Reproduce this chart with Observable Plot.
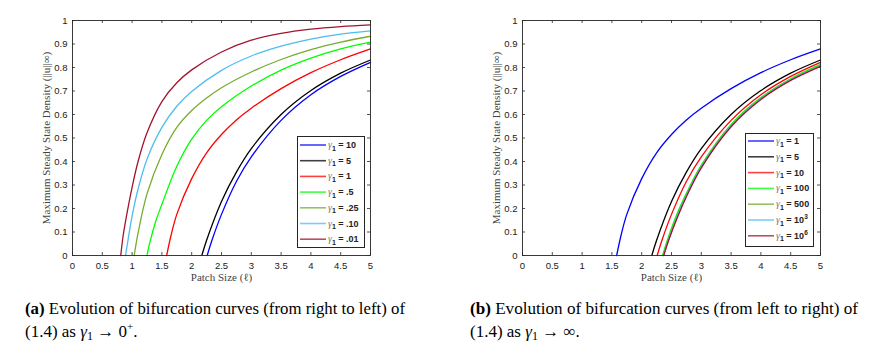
<!DOCTYPE html>
<html>
<head>
<meta charset="utf-8">
<script src="https://cdn.jsdelivr.net/npm/d3@7"></script>
<script src="https://cdn.jsdelivr.net/npm/@observablehq/plot@0.6"></script>
<style>
  html, body { margin: 0; padding: 0; background: #fff; }
  #page { position: relative; width: 882px; height: 361px; overflow: hidden; }
  .panel { position: absolute; top: 0; }
  .legend { position: absolute; background: #fff; border: 0.8px solid #262626; box-sizing: border-box; }
</style>
</head>
<body>
<div id="page"></div>
<script>
// ---------- data ----------
const xTicks = [0, 0.5, 1, 1.5, 2, 2.5, 3, 3.5, 4, 4.5, 5];
const xTickLabels = ["0", "0.5", "1", "1.5", "2", "2.5", "3", "3.5", "4", "4.5", "5"];
const yTicks = [0, 0.1, 0.2, 0.3, 0.4, 0.5, 0.6, 0.7, 0.8, 0.9, 1];
const yTickLabels = ["0", "0.1", "0.2", "0.3", "0.4", "0.5", "0.6", "0.7", "0.8", "0.9", "1"];

// gamma_1 = 10
const g10_x = [2.26, 2.34, 2.5, 2.75, 3.0, 3.5, 4.0, 4.5, 5.0];
const g10_y = [0, 0.065, 0.175, 0.315, 0.42, 0.575, 0.684, 0.762, 0.822];
// gamma_1 = 5
const g5_x = [2.17, 2.25, 2.5, 2.75, 3.0, 3.5, 4.0, 4.5, 5.0];
const g5_y = [0, 0.065, 0.23, 0.355, 0.455, 0.60, 0.702, 0.776, 0.832];
// gamma_1 = 1
const g1_x = [1.58, 1.65, 1.75, 2.0, 2.25, 2.5, 2.75, 3.0, 3.5, 4.0, 4.5, 5.0];
const g1_y = [0, 0.082, 0.175, 0.327, 0.437, 0.515, 0.577, 0.627, 0.71, 0.778, 0.833, 0.879];
// gamma_1 = .5
const g05_x = [1.25, 1.3, 1.4, 1.5, 1.75, 2.0, 2.25, 2.5, 3.0, 3.5, 4.0, 4.5, 5.0];
const g05_y = [0, 0.058, 0.148, 0.218, 0.38, 0.495, 0.575, 0.633, 0.721, 0.789, 0.84, 0.879, 0.908];
// gamma_1 = .25
const g025_x = [1.035, 1.1, 1.25, 1.5, 1.75, 2.0, 2.25, 2.5, 3.0, 3.5, 4.0, 4.5, 5.0];
const g025_y = [0, 0.095, 0.262, 0.43, 0.545, 0.617, 0.67, 0.714, 0.781, 0.834, 0.876, 0.908, 0.933];
// gamma_1 = .10
const g010_x = [0.89, 0.95, 1.0, 1.1, 1.25, 1.5, 1.75, 2.0, 2.5, 3.0, 3.5, 4.0, 4.5, 5.0];
const g010_y = [0, 0.095, 0.168, 0.283, 0.41, 0.545, 0.635, 0.698, 0.788, 0.849, 0.891, 0.921, 0.942, 0.956];
// gamma_1 = .01
const g001_x = [0.81, 0.85, 0.9, 1.0, 1.1, 1.25, 1.5, 1.75, 2.0, 2.5, 3.0, 3.5, 4.0, 4.5, 5.0];
const g001_y = [0, 0.085, 0.16, 0.29, 0.40, 0.522, 0.655, 0.735, 0.79, 0.866, 0.916, 0.945, 0.963, 0.974, 0.981];
// gamma_1 = 100
const g100_x = [2.35, 2.43, 2.6, 2.75, 3.0, 3.5, 4.0, 4.5, 5.0];
const g100_y = [0, 0.065, 0.182, 0.265, 0.385, 0.558, 0.672, 0.752, 0.813];
// gamma_1 = 500
const g500_x = [2.36, 2.44, 2.6, 2.75, 3.0, 3.5, 4.0, 4.5, 5.0];
const g500_y = [0, 0.065, 0.172, 0.258, 0.379, 0.553, 0.668, 0.749, 0.809];
// gamma_1 = 10^3
const g1e3_x = [2.365, 2.445, 2.6, 2.75, 3.0, 3.5, 4.0, 4.5, 5.0];
const g1e3_y = [0, 0.064, 0.168, 0.255, 0.377, 0.551, 0.667, 0.748, 0.807];
// gamma_1 = 10^6
const g1e6_x = [2.37, 2.45, 2.6, 2.75, 3.0, 3.5, 4.0, 4.5, 5.0];
const g1e6_y = [0, 0.063, 0.163, 0.25, 0.373, 0.548, 0.664, 0.745, 0.805];

const leftLabels = ["10", "5", "1", ".5", ".25", ".10", ".01"];
const rightLabels = ["1", "5", "10", "100", "500", "10^3", "10^6"];

const xLabel = "Patch Size (\u2113)";
const yLabel = "Maximum Steady State Density (||u||\u221E)";

const captionA1 = ["(a)", " Evolution of bifurcation curves (from right to left) of"];
const captionB1 = ["(b)", " Evolution of bifurcation curves (from left to right) of"];

// ---------- styling ----------
const C = {
  blue: "#0000ff", black: "#000000", red: "#ff0000", green: "#00ff00",
  olive: "#77ac30", lightblue: "#4dbeee", darkred: "#a2142f"
};
const leftSeries = [
  {label: leftLabels[0], xs: g10_x, ys: g10_y, color: C.blue},
  {label: leftLabels[1], xs: g5_x, ys: g5_y, color: C.black},
  {label: leftLabels[2], xs: g1_x, ys: g1_y, color: C.red},
  {label: leftLabels[3], xs: g05_x, ys: g05_y, color: C.green},
  {label: leftLabels[4], xs: g025_x, ys: g025_y, color: C.olive},
  {label: leftLabels[5], xs: g010_x, ys: g010_y, color: C.lightblue},
  {label: leftLabels[6], xs: g001_x, ys: g001_y, color: C.darkred}
];
const rightSeries = [
  {label: rightLabels[0], xs: g1_x, ys: g1_y, color: C.blue},
  {label: rightLabels[1], xs: g5_x, ys: g5_y, color: C.black},
  {label: rightLabels[2], xs: g10_x, ys: g10_y, color: C.red},
  {label: rightLabels[3], xs: g100_x, ys: g100_y, color: C.green},
  {label: rightLabels[4], xs: g500_x, ys: g500_y, color: C.olive},
  {label: rightLabels[5], xs: g1e3_x, ys: g1e3_y, color: C.lightblue},
  {label: rightLabels[6], xs: g1e6_x, ys: g1e6_y, color: C.darkred}
];

const W = 400, H = 290, ML = 72, MR = 30, MT = 20, MB = 35;
const innerW = W - ML - MR, innerH = H - MT - MB;
const tickLen = 3;
const axisColor = "#262626";
const sans = "'Liberation Sans', Arial, Helvetica, sans-serif";
const serif = "'Liberation Serif', 'Times New Roman', serif";

function makePlot(series) {
  const rows = series.flatMap(s => s.xs.map((x, i) => ({x, y: s.ys[i], key: s.label, color: s.color})));
  return Plot.plot({
    width: W, height: H,
    marginLeft: ML, marginRight: MR, marginTop: MT, marginBottom: MB,
    style: {fontFamily: sans, fontSize: "9.5px", color: axisColor, background: "transparent", overflow: "visible"},
    x: {domain: [0, 5]},
    y: {domain: [0, 1]},
    marks: [
      Plot.axisX(xTicks, {tickSize: 0, tickPadding: 7, tickFormat: (d, i) => xTickLabels[i], label: null, fontSize: 9.5, fill: "#1a1a1a"}),
      Plot.axisY(yTicks, {tickSize: 0, tickPadding: 5, tickFormat: (d, i) => yTickLabels[i], label: null, fontSize: 9.5, fill: "#1a1a1a"}),
      // inward ticks on all four sides
      Plot.tickX(xTicks, {x: d => d, insetTop: innerH - tickLen, stroke: axisColor, strokeWidth: 0.8}),
      Plot.tickX(xTicks, {x: d => d, insetBottom: innerH - tickLen, stroke: axisColor, strokeWidth: 0.8}),
      Plot.tickY(yTicks, {y: d => d, insetRight: innerW - tickLen, stroke: axisColor, strokeWidth: 0.8}),
      Plot.tickY(yTicks, {y: d => d, insetLeft: innerW - tickLen, stroke: axisColor, strokeWidth: 0.8}),
      Plot.line(rows, {x: "x", y: "y", z: "key", stroke: "color", strokeWidth: 1.3, curve: "catmull-rom"}),
      Plot.frame({stroke: axisColor, strokeWidth: 0.9}),
      Plot.text([xLabel], {frameAnchor: "bottom", dy: 22, text: d => d, fontFamily: serif, fontSize: 11, fill: "#444", textAnchor: "middle", lineAnchor: "middle"}),
      Plot.text([yLabel], {frameAnchor: "left", dx: -26, rotate: -90, text: d => d, fontFamily: serif, fontSize: 11, fill: "#444", textAnchor: "middle", lineAnchor: "middle"})
    ]
  });
}

function makeLegend(series, box, rowY0, rowStep) {
  const div = document.createElement("div");
  div.className = "legend";
  Object.assign(div.style, {left: box.x + "px", top: box.y + "px", width: box.w + "px", height: box.h + "px"});
  const ns = "http://www.w3.org/2000/svg";
  const svg = document.createElementNS(ns, "svg");
  svg.setAttribute("width", box.w);
  svg.setAttribute("height", box.h);
  svg.style.position = "absolute";
  svg.style.left = "-0.8px";
  svg.style.top = "-0.8px";
  series.forEach((s, i) => {
    const y = rowY0 + i * rowStep;
    const ln = document.createElementNS(ns, "line");
    ln.setAttribute("x1", 3); ln.setAttribute("x2", 29);
    ln.setAttribute("y1", y); ln.setAttribute("y2", y);
    ln.setAttribute("stroke", s.color); ln.setAttribute("stroke-width", 1.6);
    ln.setAttribute("stroke-opacity", 0.75);
    svg.appendChild(ln);
    const t = document.createElementNS(ns, "text");
    t.setAttribute("x", 31); t.setAttribute("y", y + 3);
    t.setAttribute("font-family", sans); t.setAttribute("font-size", 9);
    t.setAttribute("font-weight", "bold"); t.setAttribute("fill", "#222");
    const g = document.createElementNS(ns, "tspan");
    g.setAttribute("font-family", serif); g.setAttribute("font-style", "italic");
    g.setAttribute("font-weight", "normal"); g.setAttribute("fill", "#777"); g.setAttribute("font-size", 10);
    g.textContent = "\u03B3";
    t.appendChild(g);
    const sub = document.createElementNS(ns, "tspan");
    sub.setAttribute("font-size", 7); sub.setAttribute("dy", 2.5);
    sub.textContent = "1";
    t.appendChild(sub);
    const parts = s.label.split("^");
    const main = document.createElementNS(ns, "tspan");
    main.setAttribute("dy", -2.5);
    main.textContent = " = " + parts[0];
    t.appendChild(main);
    if (parts[1]) {
      const sup = document.createElementNS(ns, "tspan");
      sup.setAttribute("font-size", 6.5); sup.setAttribute("dy", -4);
      sup.textContent = parts[1];
      t.appendChild(sup);
    }
    svg.appendChild(t);
  });
  div.appendChild(svg);
  return div;
}

const page = document.getElementById("page");
const p1 = makePlot(leftSeries); p1.classList.add("panel"); p1.style.left = "0px";
const p2 = makePlot(rightSeries); p2.classList.add("panel"); p2.style.left = "450px";
page.appendChild(p1);
page.appendChild(p2);
page.appendChild(makeLegend(leftSeries, {x: 297, y: 136, w: 68, h: 112}, 9, 15.7));
page.appendChild(makeLegend(rightSeries, {x: 745, y: 133, w: 69, h: 114}, 8, 15.8));

// captions
const ns = "http://www.w3.org/2000/svg";
const cap = document.createElementNS(ns, "svg");
cap.setAttribute("width", 882); cap.setAttribute("height", 361);
cap.style.position = "absolute"; cap.style.left = "0"; cap.style.top = "0";
function capLine(x, y, parts, len) {
  const t = document.createElementNS(ns, "text");
  t.setAttribute("x", x); t.setAttribute("y", y);
  t.setAttribute("font-family", serif); t.setAttribute("font-size", 17);
  t.setAttribute("fill", "#000");
  if (len) { t.setAttribute("textLength", len); t.setAttribute("lengthAdjust", "spacingAndGlyphs"); }
  parts.forEach(p => {
    const s = document.createElementNS(ns, "tspan");
    Object.entries(p.attr || {}).forEach(([k, v]) => s.setAttribute(k, v));
    s.textContent = p.text;
    t.appendChild(s);
  });
  cap.appendChild(t);
}
capLine(25, 314, [{text: captionA1[0], attr: {"font-weight": "bold"}}, {text: captionA1[1]}], 380);
capLine(25, 337, [
  {text: "(1.4) as "}, {text: "\u03B3", attr: {"font-style": "italic"}},
  {text: "1", attr: {"font-size": 12, dy: 3}}, {text: " \u2192 0", attr: {dy: -3}},
  {text: "+", attr: {"font-size": 11, dy: -7}}, {text: ".", attr: {dy: 7}}
]);
capLine(470, 314, [{text: captionB1[0], attr: {"font-weight": "bold"}}, {text: captionB1[1]}], 388);
capLine(470, 337, [
  {text: "(1.4) as "}, {text: "\u03B3", attr: {"font-style": "italic"}},
  {text: "1", attr: {"font-size": 12, dy: 3}}, {text: " \u2192 \u221E.", attr: {dy: -3}}
]);
page.appendChild(cap);
</script>
</body>
</html>
